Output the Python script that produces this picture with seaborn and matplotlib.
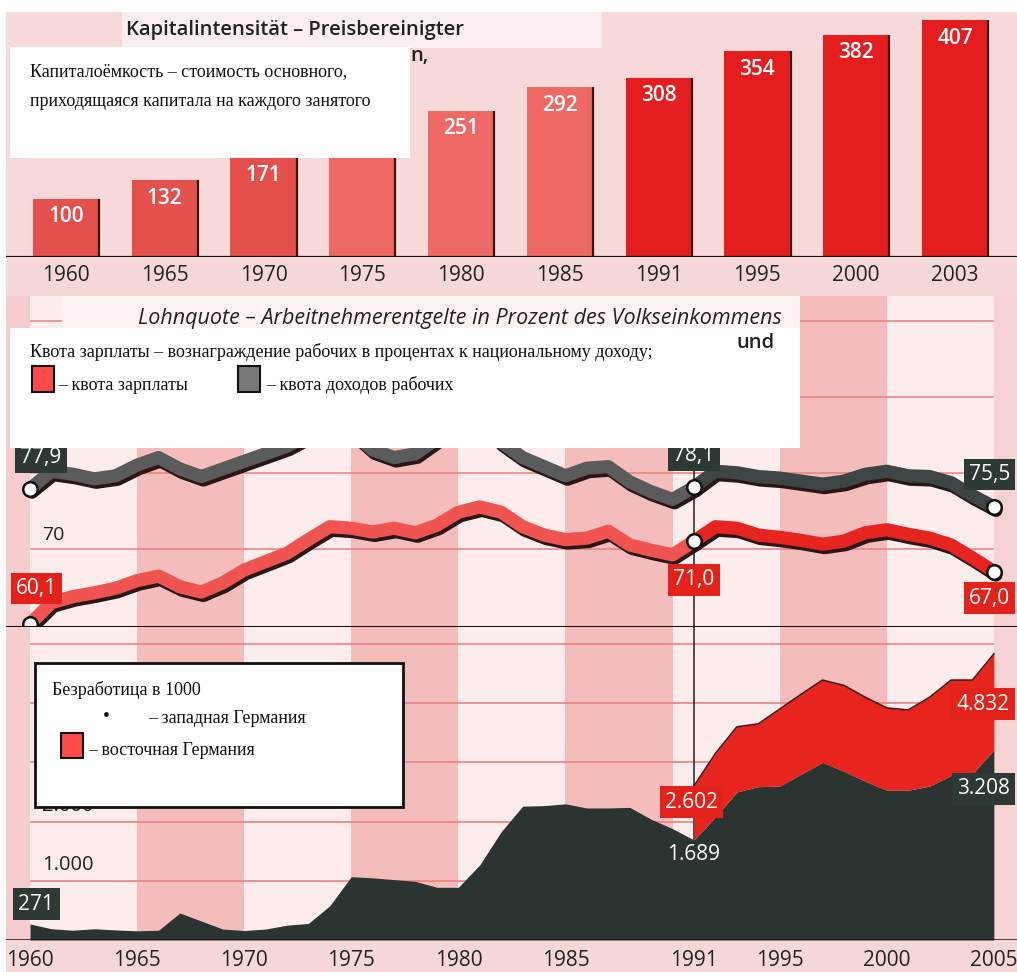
import matplotlib
matplotlib.use("Agg")
import numpy as np
import pandas as pd
import matplotlib.pyplot as plt
import seaborn as sns
from matplotlib import patheffects as pe
from matplotlib.patches import Rectangle

# --- data ---
cap_years = ['1960', '1965', '1970', '1975', '1980', '1985', '1991', '1995', '2000', '2003']
cap_values = [100, 132, 171, 220, 251, 292, 308, 354, 382, 407]

share_years = list(range(1960, 2006))
wage_share = [60.1, 62.9, 63.7, 64.2, 64.8, 65.8, 66.4, 65.0, 64.3, 65.5,
              67.2, 68.3, 69.4, 71.2, 72.9, 72.7, 72.2, 72.7, 72.1, 73.1,
              74.8, 75.5, 74.8, 72.9, 71.8, 71.2, 71.4, 72.3, 70.5, 69.8,
              69.2, 71.0, 72.9, 72.7, 71.8, 71.5, 71.1, 70.6, 71.0, 72.1,
              72.5, 71.9, 71.4, 70.5, 68.8, 67.0]
income_share = [77.9, 80.2, 79.8, 79.2, 79.6, 81.0, 82.0, 80.5, 79.5, 80.5,
                81.5, 82.5, 83.5, 85.0, 87.0, 85.5, 83.0, 82.0, 82.5, 84.5,
                86.5, 87.0, 84.0, 82.0, 80.8, 79.6, 80.6, 80.8, 78.8, 77.5,
                76.5, 78.1, 80.2, 80.0, 79.5, 79.3, 78.9, 78.5, 78.9, 79.8,
                80.2, 79.6, 79.5, 78.7, 77.0, 75.5]

unemp_years = list(range(1960, 2006))
unemp_west = [271, 190, 165, 190, 170, 155, 165, 456, 320, 185,
              160, 185, 250, 280, 580, 1070, 1050, 1020, 990, 890,
              890, 1270, 1830, 2260, 2270, 2300, 2230, 2230, 2240, 2040,
              1880, 1689, 2080, 2500, 2590, 2600, 2800, 3000, 2850, 2680,
              2530, 2530, 2600, 2780, 2810, 3208]
east_years = list(range(1991, 2006))
unemp_east = [913, 1070, 1100, 1060, 1300, 1350, 1390, 1450, 1420, 1390,
              1355, 1500, 1610, 1580, 1624]

bottom_ticks = [1960, 1965, 1970, 1975, 1980, 1985, 1991, 1995, 2000, 2005]

W, H = 1017, 972
plt.rcParams['font.family'] = ['Open Sans', 'DejaVu Sans']
fig = plt.figure(figsize=(W / 100, H / 100), dpi=100, facecolor='#f6d8d8')


def px_axes(x0, y0, x1, y1, **kw):
    return fig.add_axes([x0 / W, 1 - y1 / H, (x1 - x0) / W, (y1 - y0) / H], **kw)


# ---------------- top: capital intensity bars ----------------
ax1 = px_axes(6, 12, W, 257)
ax1.set_facecolor('#f7d9d9')
cap_df = pd.DataFrame({'year': cap_years, 'value': cap_values})
bar_colors = ['#e4504c'] * 3 + ['#ee6964'] * 3 + ['#e41e1e'] * 4
sns.barplot(data=cap_df, x='year', y='value', hue='year', palette=bar_colors,
            legend=False, width=0.67, saturation=1, ax=ax1, zorder=2)
for p in ax1.patches:
    ax1.vlines(p.get_x() + p.get_width(), 0, p.get_height(), color='#3a1515', lw=1.6, zorder=3)
for i, v in enumerate(cap_values):
    ax1.annotate(str(v), (i, v), xytext=(0, -13), textcoords='offset points',
                 ha='center', va='center', color='white', fontsize=15, fontweight='semibold', zorder=4)
ax1.set_xlim(-0.607, 9.628)
ax1.set_ylim(0, 421)
ax1.axhline(0, color='#111', lw=1.6, zorder=5)
for s in ax1.spines.values():
    s.set_visible(False)
ax1.set_xlabel('')
ax1.set_ylabel('')
ax1.set_yticks([])
ax1.tick_params(axis='x', length=0, pad=6, labelsize=15, labelcolor='#222')

# ---------------- middle: wage share lines ----------------
xlim = (1958.88, 2006.08)


def striped(ax):
    ax.set_facecolor('#fcecec')
    for start in [1965, 1975, 1985, 1995]:
        ax.axvspan(start, start + 5, color='#f5bcbc', lw=0, zorder=0)
    ax.axvspan(xlim[0], 1960, color='#f6cccc', lw=0, zorder=0)
    ax.axvspan(2005, xlim[1], color='#f7d2d2', lw=0, zorder=0)
    ax.set_xlim(*xlim)
    for s in ax.spines.values():
        s.set_visible(False)
    ax.set_yticks([])
    ax.set_xlabel('')
    ax.set_ylabel('')


ax2 = px_axes(6, 296, W, 627)
striped(ax2)
ax2.set_ylim(59.7, 103.26)
ax2.set_xticks([])
ax2.hlines([70, 80, 90, 100], 1960, 2005, color='#e88080', lw=1.1, zorder=1)
ax2.axvline(1991, color='#222', lw=1.1, zorder=1.5)
ax2.axhline(59.7, color='#111', lw=2.2, zorder=6)

share_df = pd.DataFrame({'year': share_years * 2,
                         'value': wage_share + income_share,
                         'series': ['wage'] * len(share_years) + ['income'] * len(share_years)})
shadow = [pe.SimpleLineShadow(offset=(1.5, -2.5), shadow_color='#2a1616', alpha=1), pe.Normal()]
seg_colors = {('wage', 0): '#ef5450', ('wage', 1): '#e62420',
              ('income', 0): '#5b5b5b', ('income', 1): '#3d4545'}
for (ser, era), col in seg_colors.items():
    sub = share_df[share_df.series == ser]
    sub = sub[sub.year <= 1991] if era == 0 else sub[sub.year >= 1991]
    sns.lineplot(data=sub, x='year', y='value', color=col, lw=9.5, ax=ax2,
                 solid_capstyle='round', solid_joinstyle='round', path_effects=shadow, zorder=3)
mark = share_df[share_df.year.isin([1960, 1991, 2005])]
sns.scatterplot(data=mark, x='year', y='value', s=110, color='white', edgecolor='#111',
                linewidth=1.8, ax=ax2, zorder=5, legend=False)
ax2.set_xlabel('')
ax2.set_ylabel('')

box_dark = dict(boxstyle='square,pad=0.25', fc='#2d3935', ec='none')
box_red = dict(boxstyle='square,pad=0.25', fc='#e3221b', ec='none')
lab = dict(color='white', fontsize=15, ha='center', va='center', zorder=7)
ax2.text(1960.5, 82.0, '77,9', bbox=box_dark, **lab)
ax2.text(1991, 82.3, '78,1', bbox=box_dark, **lab)
ax2.text(2004.8, 79.8, '75,5', bbox=box_dark, **lab)
ax2.text(1960.3, 64.8, '60,1', bbox=box_red, **lab)
ax2.text(1991, 65.9, '71,0', bbox=box_red, **lab)
ax2.text(2004.8, 63.5, '67,0', bbox=box_red, **lab)
ax2.text(1960.56, 71.8, '70', fontsize=14, color='#222', ha='left', va='center', zorder=7)

# ---------------- bottom: unemployment areas ----------------
ax3 = px_axes(6, 627, W, 940)
striped(ax3)
ax3.set_ylim(0, 5287)
ax3.hlines([1000, 2000, 3000, 4000, 5000], 1960, 2005, color='#e98282', lw=1.2, zorder=1)
ax3.axvline(1991, color='#222', lw=1.1, zorder=1.5)
west = np.array(unemp_west)
west_u = west[unemp_years.index(1991):]
total_u = west_u + np.array(unemp_east)
ax3.fill_between(unemp_years, 0, west, color='#2b3431', lw=0, zorder=2)
ax3.fill_between(east_years, west_u, total_u, color='#e8241e', lw=0, zorder=3)
ax3.plot(east_years, total_u, color='#4a1515', lw=1.2, zorder=3)
ax3.axhline(0, color='#111', lw=1.8, zorder=6)
ax3.set_xticks(bottom_ticks)
ax3.set_xticklabels([str(t) for t in bottom_ticks])
ax3.tick_params(axis='x', length=0, pad=7, labelsize=15, labelcolor='#222')

ax3.text(1960.3, 608, '271', bbox=box_dark, **lab)
ax3.text(1990.9, 2331, '2.602', bbox=box_red, **lab)
ax3.text(1991, 1436, '1.689', color='white', fontsize=15, ha='center', va='center', zorder=7)
ax3.text(2004.5, 3986, '4.832', bbox=box_red, **lab)
ax3.text(2004.5, 2551, '3.208', bbox=box_dark, **lab)
ax3.text(1960.56, 1267, '1.000', fontsize=14.5, color='#222', ha='left', va='center', zorder=7)
ax3.text(1960.56, 2264, '2.000', fontsize=14.5, color='#222', ha='left', va='center', zorder=7)

# ---------------- overlay: pasted boxes with russian text ----------------
ov = fig.add_axes([0, 0, 1, 1], zorder=10)
ov.set_xlim(0, W)
ov.set_ylim(H, 0)
ov.axis('off')
ov.patch.set_alpha(0)
ov.add_patch(Rectangle((0, 0), W, 12, fc='white', ec='none'))
ov.add_patch(Rectangle((0, 0), 6, H, fc='white', ec='none'))

serif = ['Liberation Serif', 'DejaVu Serif']
ru = dict(family=serif, fontsize=13, color='#111', va='center', ha='left')

# box 1
ov.add_patch(Rectangle((122, 12), 480, 36, fc='#fbeeee', ec='none'))
ov.text(126, 30, 'Kapitalintensität – Preisbereinigter', fontsize=14.5, fontweight='semibold',
        color='#222', va='center')
ov.text(410, 56, 'n,', fontsize=14.5, fontweight='semibold', color='#222', va='center')
ov.add_patch(Rectangle((10, 47), 400, 111, fc='white', ec='none'))
ov.text(30, 72, 'Капиталоёмкость – стоимость основного,', **ru)
ov.text(30, 101, 'приходящаяся капитала на каждого занятого', **ru)

# box 2
ov.add_patch(Rectangle((62, 296), 738, 34, fc='#fdf3f3', ec='none'))
ov.text(138, 318, 'Lohnquote – Arbeitnehmerentgelte in Prozent des Volkseinkommens',
        fontsize=15.5, style='italic', color='#222', va='center')
ov.add_patch(Rectangle((10, 328), 790, 120, fc='white', ec='none'))
ov.text(736, 343, 'und', fontsize=14.5, fontweight='semibold', color='#222', va='center')
ov.text(30, 352, 'Квота зарплаты – вознаграждение рабочих в процентах к национальному доходу;', **ru)
ov.add_patch(Rectangle((32, 366), 22, 26, fc='#ff4a4a', ec='#111', lw=1.5))
ov.text(58, 385, '– квота зарплаты', **ru)
ov.add_patch(Rectangle((238, 366), 22, 26, fc='#787878', ec='#111', lw=1.5))
ov.text(266, 385, '– квота доходов рабочих', **ru)

# box 3
ov.add_patch(Rectangle((35, 663), 368, 144, fc='white', ec='#111', lw=2))
ov.text(52, 690, 'Безработица в 1000', **ru)
ov.text(106, 716, '•', family=serif, fontsize=14, color='#111', va='center', ha='center')
ov.text(148, 718, '– западная Германия', **ru)
ov.add_patch(Rectangle((61, 733), 22, 25, fc='#ff4a4a', ec='#111', lw=1.5))
ov.text(88, 750, '– восточная Германия', **ru)

fig.savefig('out.png', dpi=100, facecolor=fig.get_facecolor())
